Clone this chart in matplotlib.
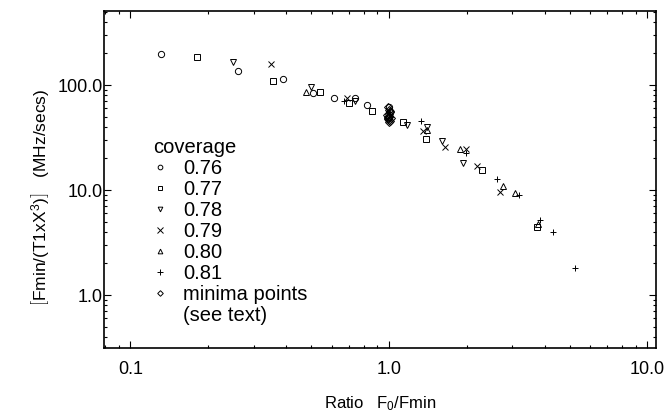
"""Log-log scatter of Fmin/(T1xX^3) against the ratio F0/Fmin."""

import matplotlib

matplotlib.use("Agg")
import matplotlib.pyplot as plt
from matplotlib.lines import Line2D
from matplotlib.ticker import FixedFormatter, FixedLocator, LogLocator, NullFormatter

plt.rcParams["font.family"] = ["Liberation Sans", "DejaVu Sans"]
plt.rcParams["mathtext.fontset"] = "custom"
plt.rcParams["mathtext.rm"] = "Liberation Sans"
plt.rcParams["mathtext.it"] = "Liberation Sans"

# coverage series: ratio F0/Fmin and Fmin/(T1xX^3) in MHz/secs
cov076_x = [0.131, 0.26, 0.389, 0.51, 0.615, 0.74, 0.82, 1.0]
cov076_y = [197, 136, 114, 84, 75, 76, 64, 62]
cov077_x = [0.181, 0.357, 0.54, 0.70, 0.86, 1.13, 1.39, 2.29, 3.75]
cov077_y = [185, 109, 86, 67, 56.5, 44, 30.6, 15.5, 4.45]
cov078_x = [0.25, 0.50, 0.74, 1.18, 1.40, 1.6, 1.94]
cov078_y = [166, 96, 70, 41.6, 40, 29, 18.1]
cov079_x = [0.349, 0.69, 1.35, 1.65, 1.98, 2.19, 2.7]
cov079_y = [158, 75, 36.5, 25.8, 24.6, 16.9, 9.5]
cov080_x = [0.478, 1.40, 1.89, 2.76, 3.08, 3.78]
cov080_y = [86, 37, 24.6, 10.9, 9.3, 4.7]
cov081_x = [0.673, 1.0, 1.33, 1.98, 2.62, 3.2, 3.85, 4.3, 5.23]
cov081_y = [70.5, 55, 45, 22.5, 12.7, 9.0, 5.2, 4.0, 1.81]
minima_x = [0.99, 1.0, 1.01, 0.98, 1.0, 1.02, 0.99, 1.0, 1.01, 1.0, 0.99, 1.01,
            1.0, 0.995, 1.005]
minima_y = [62, 58, 55, 52, 50, 48, 47, 46, 45, 53, 50, 57, 44, 49, 51]

series = [
    ("0.76", cov076_x, cov076_y, "o"),
    ("0.77", cov077_x, cov077_y, "s"),
    ("0.78", cov078_x, cov078_y, "v"),
    ("0.79", cov079_x, cov079_y, "x"),
    ("0.80", cov080_x, cov080_y, "^"),
    ("0.81", cov081_x, cov081_y, "+"),
    ("minima points", minima_x, minima_y, "D"),
]

x_ticks = [0.1, 1.0, 10.0]
x_tick_labels = ["0.1", "1.0", "10.0"]
y_ticks = [1.0, 10.0, 100.0]
y_tick_labels = ["1.0", "10.0", "100.0"]

fig = plt.figure(figsize=(6.65, 4.17), dpi=100)
ax = fig.add_axes([104 / 665, 69 / 417, 552 / 665, 337 / 417])

for label, xs, ys, marker in series:
    size = {"D": 3.8, "x": 5, "+": 5}.get(marker, 4.5)
    ax.plot(xs, ys, linestyle="none", marker=marker, markersize=size,
            markerfacecolor="none", markeredgecolor="black",
            markeredgewidth=0.7, label=label)

ax.set_xscale("log")
ax.set_yscale("log")
ax.set_xlim(0.079, 10.8)
ax.set_ylim(0.313, 507)

ax.xaxis.set_major_locator(FixedLocator(x_ticks))
ax.xaxis.set_major_formatter(FixedFormatter(x_tick_labels))
ax.yaxis.set_major_locator(FixedLocator(y_ticks))
ax.yaxis.set_major_formatter(FixedFormatter(y_tick_labels))
for axis in (ax.xaxis, ax.yaxis):
    axis.set_minor_locator(LogLocator(base=10, subs=range(2, 10)))
    axis.set_minor_formatter(NullFormatter())

ax.tick_params(which="both", direction="in", top=True, right=True,
               labelsize=13, width=0.8)
ax.tick_params(which="major", length=5)
ax.tick_params(axis="x", which="major", pad=9)
ax.tick_params(axis="y", which="major", pad=1)
ax.tick_params(which="minor", length=2.5)
for spine in ax.spines.values():
    spine.set_linewidth(1.2)

ax.set_xlabel("Ratio   F$_0$/Fmin", fontsize=12, labelpad=12)
ax.set_ylabel(r"$\left[\mathrm{Fmin/(T1xX^{3})}\right]$   (MHz/secs)",
              fontsize=12.5)
ax.yaxis.set_label_coords(-0.095, 0.445)

handles, labels = ax.get_legend_handles_labels()
handles.append(Line2D([], [], linestyle="none"))
labels.append("(see text)")
ax.legend(handles, labels, title="coverage", loc="upper left",
          bbox_to_anchor=(0.067, 0.66), frameon=False, fontsize=14.5,
          title_fontsize=14.5, markerscale=0.75, handlelength=0.7,
          handletextpad=0.8, labelspacing=0.1, borderpad=0.1,
          alignment="left")

fig.savefig("out.png", dpi=100)
plt.close(fig)
